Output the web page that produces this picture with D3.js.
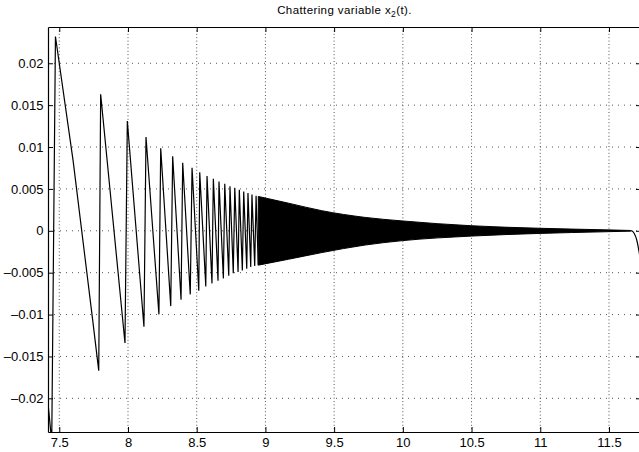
<!DOCTYPE html>
<html lang="en">
<head>
    <meta charset="UTF-8">
    <title>Chattering variable x2(t)</title>
    <script src="https://d3js.org/d3.v7.min.js"></script>
    <style>
        body { margin: 0; background: #fff; }
        text { font-family: "Liberation Sans", Arial, Helvetica, sans-serif; }
    </style>
</head>
<body>
    <div id="chart"></div>
    <script>
        // Resolvable sawtooth part (t, x2)
        var sawT = [7.418, 7.445, 7.472, 7.600, 7.743, 7.787, 7.801, 7.978, 7.995, 8.116,
                    8.131, 8.225, 8.238, 8.311, 8.325, 8.386, 8.398, 8.453, 8.466, 8.515,
                    8.522, 8.566, 8.575, 8.611, 8.621, 8.655, 8.662, 8.694, 8.704, 8.733,
                    8.742, 8.766, 8.777, 8.801, 8.810, 8.832, 8.842, 8.864, 8.873, 8.893,
                    8.902, 8.922, 8.932, 8.948];
        var sawV = [-0.0206, -0.0252, 0.0232, 0.00844, -0.01066, -0.0167, 0.0163, -0.0134, 0.0131, -0.01145,
                    0.0112, -0.00998, 0.00985, -0.00899, 0.00891, -0.00823, 0.00812, -0.00759, 0.00752, -0.00716,
                    0.00700, -0.00664, 0.00653, -0.00628, 0.00621, -0.00597, 0.00589, -0.00568, 0.00561, -0.00537,
                    0.00533, -0.00508, 0.00513, -0.00493, 0.00489, -0.00473, 0.0047, -0.00454, 0.0045, -0.00433,
                    0.00434, -0.00421, 0.00418, -0.0041];

        // Dense chattering band: envelope
        var bandT     = [8.948, 9.167, 9.410, 9.725, 10.000, 10.501, 10.999, 11.457, 11.654];
        var bandUpper = [0.0041, 0.0033, 0.0024, 0.0016, 0.00117, 0.00060, 0.00030, 0.00012, 0.00004];
        var bandLower = [-0.0041, -0.0034, -0.0026, -0.0017, -0.00117, -0.00063, -0.00031, -0.00012, -0.00004];

        // Tail after chattering stops
        var tailT = [11.654, 11.666, 11.683, 11.702, 11.719, 11.735];
        var tailV = [0, 0, -0.0003, -0.0011, -0.0025, -0.0042];

        var xTicks = [7.5, 8, 8.5, 9, 9.5, 10, 10.5, 11, 11.5];
        var xTickLabels = ["7.5", "8", "8.5", "9", "9.5", "10", "10.5", "11", "11.5"];
        var yTicks = [-0.02, -0.015, -0.01, -0.005, 0, 0.005, 0.01, 0.015, 0.02];
        var yTickLabels = ["\u20130.02", "\u20130.015", "\u20130.01", "\u20130.005", "0", "0.005", "0.01", "0.015", "0.02"];

        var width = 639, height = 452;
        var margin = { top: 27, right: -2, bottom: 20, left: 48 };
        var w = width - margin.left - margin.right;
        var h = height - margin.top - margin.bottom;

        var svg = d3.select("#chart").append("svg")
            .attr("width", width)
            .attr("height", height);

        var g = svg.append("g")
            .attr("transform", "translate(" + margin.left + "," + margin.top + ")");

        var x = d3.scaleLinear().domain([7.4178, 11.733]).range([0, w]);
        var y = d3.scaleLinear().domain([-0.02402, 0.02433]).range([h, 0]);

        g.append("clipPath").attr("id", "clip")
            .append("rect").attr("width", w).attr("height", h);

        // grid
        g.append("g").selectAll("line")
            .data(xTicks).enter().append("line")
            .attr("x1", function(d) { return x(d); })
            .attr("x2", function(d) { return x(d); })
            .attr("y1", 0).attr("y2", h)
            .attr("stroke", "#555").attr("stroke-width", 1)
            .attr("stroke-dasharray", "1,2.4");

        g.append("g").selectAll("line")
            .data(yTicks).enter().append("line")
            .attr("x1", 0).attr("x2", w)
            .attr("y1", function(d) { return y(d); })
            .attr("y2", function(d) { return y(d); })
            .attr("stroke", "#555").attr("stroke-width", 1)
            .attr("stroke-dasharray", "1,5");

        var plot = g.append("g").attr("clip-path", "url(#clip)");

        var bandData = bandT.map(function(t, i) { return { t: t, hi: bandUpper[i], lo: bandLower[i] }; });
        plot.append("path")
            .datum(bandData)
            .attr("fill", "#000")
            .attr("stroke", "#000")
            .attr("stroke-width", 1)
            .attr("d", d3.area().curve(d3.curveMonotoneX)
                .x(function(d) { return x(d.t); })
                .y0(function(d) { return y(d.lo); })
                .y1(function(d) { return y(d.hi); }));

        var line = d3.line()
            .x(function(d) { return x(d[0]); })
            .y(function(d) { return y(d[1]); });

        plot.append("path")
            .datum(d3.zip(sawT, sawV))
            .attr("fill", "none")
            .attr("stroke", "#000")
            .attr("stroke-width", 1.2)
            .attr("d", line);

        plot.append("path")
            .datum(d3.zip(tailT, tailV))
            .attr("fill", "none")
            .attr("stroke", "#000")
            .attr("stroke-width", 1.2)
            .attr("d", d3.line().curve(d3.curveMonotoneX)
                .x(function(d) { return x(d[0]); })
                .y(function(d) { return y(d[1]); }));

        // axes (MATLAB style, ticks inward)
        var xAxisB = d3.axisBottom(x).tickValues(xTicks).tickSizeInner(-5).tickSizeOuter(0)
            .tickPadding(6).tickFormat(function(d, i) { return xTickLabels[i]; });
        var xAxisT = d3.axisTop(x).tickValues(xTicks).tickSizeInner(-5).tickSizeOuter(0).tickFormat("");
        var yAxisL = d3.axisLeft(y).tickValues(yTicks).tickSizeInner(-5).tickSizeOuter(0)
            .tickPadding(4.5).tickFormat(function(d, i) { return yTickLabels[i]; });
        var yAxisR = d3.axisRight(y).tickValues(yTicks).tickSizeInner(-5).tickSizeOuter(0).tickFormat("");

        var ab = g.append("g").attr("transform", "translate(0," + h + ")").call(xAxisB);
        var at = g.append("g").call(xAxisT);
        var al = g.append("g").call(yAxisL);
        var ar = g.append("g").attr("transform", "translate(" + w + ",0)").call(yAxisR);

        [ab, at, al, ar].forEach(function(a) {
            a.select(".domain").attr("stroke", "#000").attr("stroke-width", 1.2);
            a.selectAll(".tick line").attr("stroke", "#000").attr("stroke-width", 1);
            a.selectAll("text").attr("fill", "#000").style("font-size", "13px")
                .style("font-family", "'Liberation Sans', Arial, sans-serif");
        });

        // title
        var title = svg.append("text")
            .attr("x", margin.left + w / 2)
            .attr("y", 13.5)
            .attr("text-anchor", "middle")
            .style("font-size", "11.5px")
            .style("letter-spacing", "0.4px");
        title.append("tspan").text("Chattering variable x");
        title.append("tspan").attr("dy", 3).style("font-size", "8.5px").text("2");
        title.append("tspan").attr("dy", -3).text("(t).");
    </script>
</body>
</html>
